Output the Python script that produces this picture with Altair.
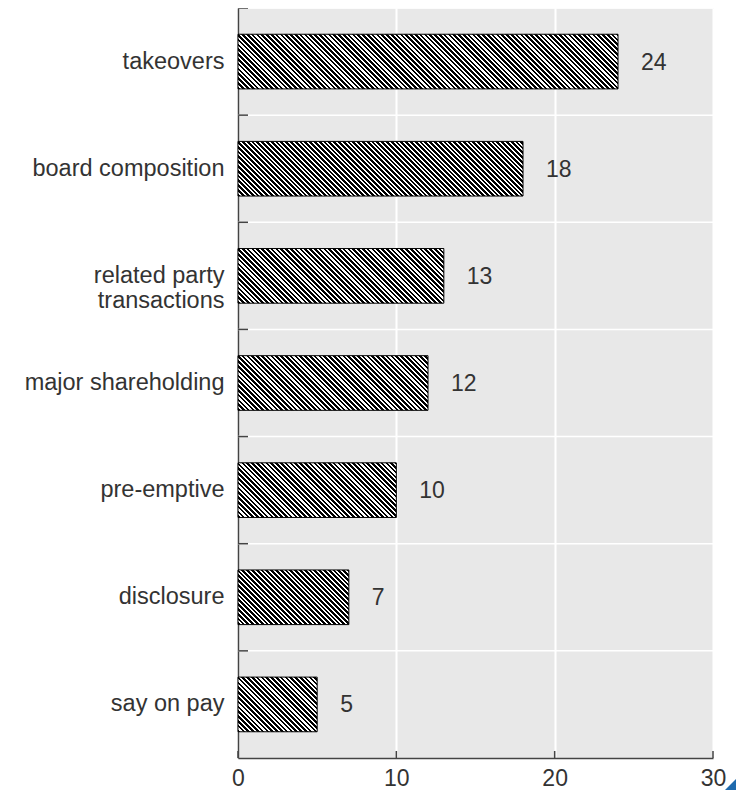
import math
import altair as alt
import pandas as pd

# ---- data ----
categories = ["takeovers", "board composition", "related party transactions",
              "major shareholding", "pre-emptive", "disclosure", "say on pay"]
values = [24, 18, 13, 12, 10, 7, 5]
x_ticks = [0, 10, 20, 30]

# ---- layout / style ----
W, H = 475, 750
X_MAX = 30
BAR_BAND = 0.51
FONT = "Liberation Sans"
TEXT = "#333333"
AXIS = "#444444"
BG = "#e8e8e8"

df = pd.DataFrame({"topic": categories, "value": values})
tick_df = pd.DataFrame({"value": x_ticks})
deco_df = pd.DataFrame({"k": [0]})

x_enc = alt.X(
    "value:Q",
    scale=alt.Scale(domain=[0, X_MAX], nice=False, zero=True),
    axis=alt.Axis(values=x_ticks, title=None, ticks=False, labelPadding=9,
                  labelFontSize=23, labelFont=FONT, labelColor=TEXT,
                  labelFlush=False, grid=True, gridColor="white", gridWidth=2,
                  domainColor=AXIS, domainWidth=1.5),
)

y_scale = alt.Scale(domain=categories, paddingInner=0, paddingOuter=0)
y_axis = alt.Axis(
    title=None, ticks=False, labelPadding=14, labelFontSize=23.5,
    labelFont=FONT, labelColor=TEXT, labelLimit=400, grid=False,
    domainColor=AXIS, domainWidth=1.5, labelLineHeight=25,
    labelExpr="datum.label == 'related party transactions' ? ['related party', 'transactions'] : datum.label",
)
y_enc = alt.Y("topic:N", sort=categories, scale=y_scale, axis=y_axis)
y_start = alt.Y("topic:N", sort=categories, scale=y_scale, axis=y_axis, bandPosition=0)

base = alt.Chart(df)

# horizontal white separators at band boundaries
hgrid = base.mark_rule(color="white", strokeWidth=1.5).encode(
    y=y_start, x=alt.value(0), x2=alt.value(W))


def hatch(w, h, period=4.8, dark=0.55):
    """Diagonal (\\) hatch as an objectBoundingBox linear gradient."""
    r = h / w
    a = (1 + r) / (1 + r * r)
    L = w + h
    n = int(math.ceil(L / period))
    stops = []
    for k in range(n):
        t0 = min(k * period / L, 1.0)
        t1 = min((k + dark) * period / L, 1.0)
        t2 = min((k + 1) * period / L, 1.0)
        stops += [
            alt.GradientStop(offset=round(t0, 5), color="#000000"),
            alt.GradientStop(offset=round(t1, 5), color="#000000"),
            alt.GradientStop(offset=round(t1, 5), color="#ffffff"),
            alt.GradientStop(offset=round(t2, 5), color="#ffffff"),
        ]
    return alt.LinearGradient(gradient="linear", stops=stops,
                              x1=0, y1=1, x2=round(a, 5), y2=round(1 - a * r, 5))


step = H / len(categories)
bar_h = BAR_BAND * step
bars = []
for cat, v in zip(categories, values):
    w = v * W / X_MAX
    bars.append(
        base.transform_filter(alt.datum.topic == cat)
        .mark_bar(fill=hatch(w, bar_h), stroke="#000000", strokeWidth=1,
                  height={"band": BAR_BAND})
        .encode(x=x_enc, y=y_enc)
    )

labels = base.mark_text(align="left", baseline="middle", dx=23, dy=1,
                        fontSize=23, font=FONT, color=TEXT).encode(
    x=x_enc, y=y_enc, text=alt.Text("value:Q"))

# inward tick marks
xticks = alt.Chart(tick_df).mark_rule(color=AXIS, strokeWidth=1.5).encode(
    x=x_enc, y=alt.value(H), y2=alt.value(H - 7))
yticks = base.mark_rule(color=AXIS, strokeWidth=1.5).encode(
    y=y_start, x=alt.value(0), x2=alt.value(10))

# decorative corner triangle (only its tip fits inside the page)
tri = alt.Chart(deco_df).mark_point(
    shape="M -1 1 L 1 -1 L 1 1 Z", filled=True, fill="#1f6aad",
    opacity=1, strokeWidth=0, size=576).encode(
    x=alt.value(W + 22), y=alt.value(H + 22))

chart = alt.layer(hgrid, *bars, labels, xticks, yticks, tri).properties(
    width=W, height=H,
    autosize=alt.AutoSizeParams(type="none"),
    padding={"left": 230, "top": 0, "right": 23, "bottom": 32},
).configure_view(fill=BG, stroke="transparent")

chart.save("out.html", embed_options={"renderer": "svg", "actions": False})
